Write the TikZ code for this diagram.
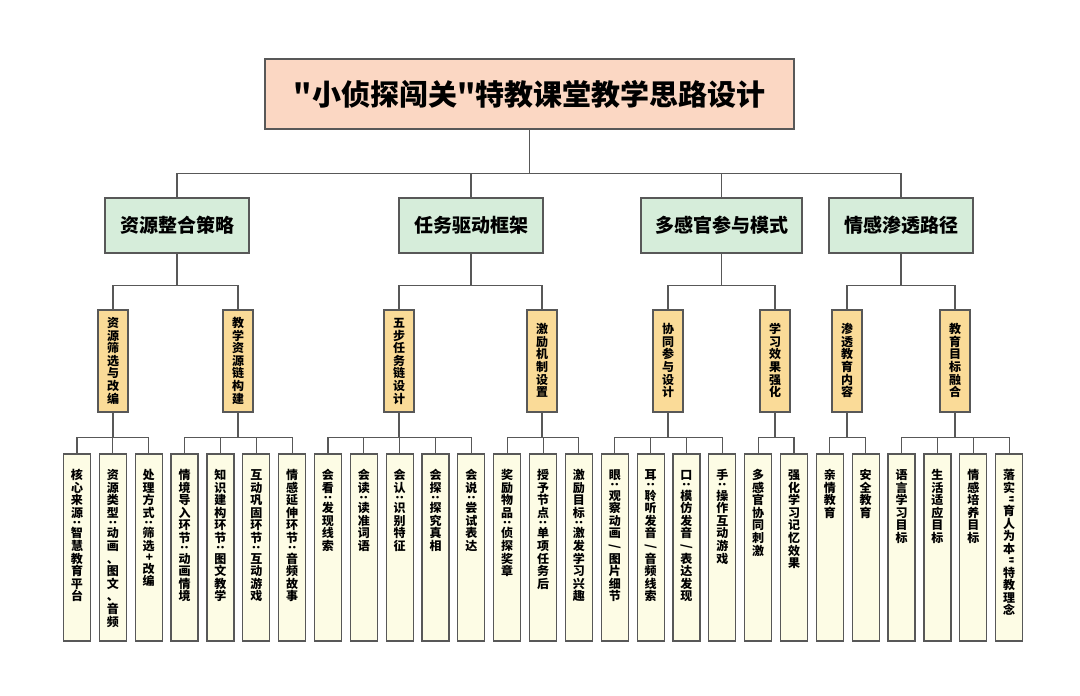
\documentclass[tikz,border=0pt]{standalone}
\usepackage{fontspec}
\setmainfont{Noto Sans CJK SC}[Ligatures=TeXOff]
\definecolor{topfill}{HTML}{FBD7C3}
\definecolor{secfill}{HTML}{D6EDDA}
\definecolor{midfill}{HTML}{FADB98}
\definecolor{leaffill}{HTML}{FDFCE5}
\definecolor{edge}{HTML}{585858}

\newcommand\vtstrut{\rule[-0.17em]{0pt}{1.05em}}
\newcommand\vtext[1]{\vbox{\offinterlineskip\vtloop#1\relax}}
\def\vtloop#1{\ifx#1\relax\else\vtone#1\expandafter\vtloop\fi}
\def\vtone#1{\ifcat\noexpand#1\relax#1\else\hbox to 1.2em{\hss\vtstrut#1\hss}\fi}
\newcommand\pvp[1]{\kern1pt\hbox to 1.2em{\hss\rotatebox[origin=c]{-90}{#1}\hss}\kern1.5pt}
\newcommand\pcolon{\pvp{:}}
\newcommand\pquote{\pvp{"}}
\newcommand\pplus{\pvp{+}}
\newcommand\pslash{\hbox to 1.2em{\hss\vtstrut\rotatebox[origin=c]{-90}{/}\hss}}
\newcommand\leafbox[1]{\vbox to 157pt{\expandafter\vtext\expandafter{#1}\vfil}}

\begin{document}
\begin{tikzpicture}[x=1pt,y=-1pt,
  box/.style={draw=edge,line width=1.2pt,inner sep=0pt,align=center},
  topbox/.style={box,fill=topfill,minimum width=529,minimum height=70,
    font=\fontsize{29}{34}\selectfont\bfseries},
  secbox/.style={box,fill=secfill,minimum width=144,minimum height=55,
    font=\fontsize{19}{22}\selectfont\bfseries},
  midbox/.style={box,fill=midfill,minimum width=30,minimum height=102,
    font=\fontsize{12}{14}\selectfont\bfseries},
  leafbox/.style={box,fill=leaffill,minimum width=27,minimum height=187,
    font=\fontsize{12}{14}\selectfont\bfseries},
  link/.style={draw=edge,line width=1.1pt}]
\fill[white] (0,0) rectangle (1080,696);
\useasboundingbox (0,0) rectangle (1080,696);

\node[topbox] (top) at (529.5,94) {"小侦探闯关"特教课堂教学思路设计};

\node[secbox] (s1) at (177,225.5) {资源整合策略};
\node[secbox] (s2) at (471,225.5) {任务驱动框架};
\node[secbox,minimum width=161] (s3) at (721.5,225.5) {多感官参与模式};
\node[secbox] (s4) at (901,225.5) {情感渗透路径};

\foreach \j/\x/\txt in {1/113/资源筛选与改编,2/238/教学资源链构建,
  3/399/五步任务链设计,4/542/激励机制设置,5/668/协同参与设计,
  6/775/学习效果强化,7/847/渗透教育内容,8/955/教育目标融合}
  \node[midbox] (m\j) at (\x,361) {\expandafter\vtext\expandafter{\txt}};

\foreach \i/\txt in {1/核心来源\pcolon 智慧教育平台,
  2/资源类型\pcolon 动画、图文、音频,
  3/处理方式\pcolon 筛选\pplus 改编,
  4/情境导入环节\pcolon 动画情境,
  5/知识建构环节\pcolon 图文教学,
  6/互动巩固环节\pcolon 互动游戏,
  7/情感延伸环节\pcolon 音频故事,
  8/会看\pcolon 发现线索,
  9/会读\pcolon 读准词语,
  10/会认\pcolon 识别特征,
  11/会探\pcolon 探究真相,
  12/会说\pcolon 尝试表达,
  13/奖励物品\pcolon 侦探奖章,
  14/授予节点\pcolon 单项任务后,
  15/激励目标\pcolon 激发学习兴趣,
  16/眼\pcolon 观察动画\pslash 图片细节,
  17/耳\pcolon 聆听发音\pslash 音频线索,
  18/口\pcolon 模仿发音\pslash 表达发现,
  19/手\pcolon 操作互动游戏,
  20/多感官协同刺激,
  21/强化学习记忆效果,
  22/亲情教育,
  23/安全教育,
  24/语言学习目标,
  25/生活适应目标,
  26/情感培养目标,
  27/落实\pquote 育人为本\pquote 特教理念}
  \node[leafbox] (l\i) at ({77+35.85*(\i-1)},547.5) {\leafbox{\txt}};

\foreach \s in {1,...,4}
  \draw[link] (top.south) -- ++(0,44) -| (s\s.north);
\foreach \s/\a/\b in {1/1/2,2/3/4,3/5/6,4/7/8}
  \foreach \m in {\a,\b}
    \draw[link] (s\s.south) -- ++(0,32) -| (m\m.north);
\foreach \m/\a/\b in {1/1/3,2/4/7,3/8/12,4/13/15,5/16/19,6/20/21,7/22/23,8/24/27}
  \foreach \c in {\a,...,\b}
    \draw[link] (m\m.south) -- ++(0,25) -| (l\c.north);
\end{tikzpicture}
\end{document}
